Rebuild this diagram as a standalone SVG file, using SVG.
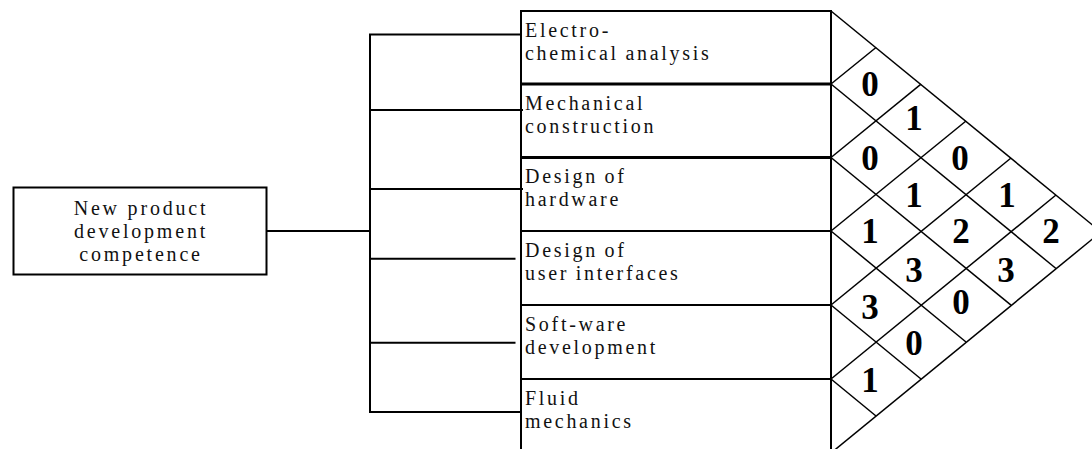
<svg xmlns="http://www.w3.org/2000/svg" width="1092" height="449" viewBox="0 0 1092 449">
  <style>
    .box { fill: #fff; stroke: #000; stroke-width: 2; }
    .ln { fill: none; stroke: #000; stroke-width: 2; }
    .thick { fill: none; stroke: #000; stroke-width: 3.2; }
    .grid { fill: none; stroke: #000; stroke-width: 1.5; }
    .lbl { font-family: "Liberation Serif", "Times New Roman", serif; font-size: 20px; letter-spacing: 2.7px; word-spacing: -1px; fill: #111; }
    .root { font-family: "Liberation Serif", "Times New Roman", serif; font-size: 20px; letter-spacing: 2.8px; fill: #111; text-anchor: middle; }
    .num { font-family: "Liberation Serif", "Times New Roman", serif; font-size: 35px; font-weight: bold; fill: #000; text-anchor: middle; }
  </style>

  <rect width="1092" height="449" fill="#fff"/>

  <!-- tree connectors from the root box to each competence -->
  <g id="connectors">
    <line class="ln" x1="267" y1="231" x2="370" y2="231"/>
    <line class="ln" x1="370" y1="34.5" x2="370" y2="412"/>
    <line class="ln" x1="369" y1="34.5" x2="521" y2="34.5"/>
    <line class="ln" x1="369" y1="110" x2="523" y2="110"/>
    <line class="ln" x1="369" y1="189" x2="523" y2="189"/>
    <line class="ln" x1="369" y1="258.7" x2="515.5" y2="258.7"/>
    <line class="ln" x1="369" y1="342.7" x2="515.5" y2="342.7"/>
    <line class="ln" x1="369" y1="412" x2="521" y2="412"/>
  </g>

  <!-- root node -->
  <g id="root">
    <rect class="box" x="13.5" y="187.5" width="253" height="87"/>
    <text class="root" x="141" y="215">New product</text>
    <text class="root" x="141" y="237.5">development</text>
    <text class="root" x="141" y="260.5">competence</text>
  </g>

  <!-- competence list frame -->
  <g id="list-frame">
    <line class="ln" x1="521" y1="10" x2="521" y2="449"/>
    <line class="ln" x1="831" y1="10" x2="831" y2="449"/>
    <line class="ln" x1="520" y1="11" x2="832" y2="11"/>
  </g>

  <g id="electrochemical">
    <text class="lbl" x="525" y="36.8">Electro-</text>
    <text class="lbl" x="525" y="59.8">chemical analysis</text>
  </g>
  <g id="mechanical">
    <line class="thick" x1="521" y1="84" x2="831" y2="84"/>
    <text class="lbl" x="525" y="109.8">Mechanical</text>
    <text class="lbl" x="525" y="132.8">construction</text>
  </g>
  <g id="hardware">
    <line class="thick" x1="521" y1="157.5" x2="831" y2="157.5"/>
    <text class="lbl" x="525" y="183">Design of</text>
    <text class="lbl" x="525" y="206.3">hardware</text>
  </g>
  <g id="user-interfaces">
    <line class="ln" x1="521" y1="231" x2="831" y2="231"/>
    <text class="lbl" x="525" y="256.8">Design of</text>
    <text class="lbl" x="525" y="279.8">user interfaces</text>
  </g>
  <g id="software">
    <line class="ln" x1="521" y1="305" x2="831" y2="305"/>
    <text class="lbl" x="525" y="330.8">Soft-ware</text>
    <text class="lbl" x="525" y="353.8">development</text>
  </g>
  <g id="fluid">
    <line class="ln" x1="521" y1="379" x2="831" y2="379"/>
    <text class="lbl" x="525" y="404.8">Fluid</text>
    <text class="lbl" x="525" y="427.8">mechanics</text>
  </g>

  <!-- triangular relation matrix: down-right and up-right lattice lines -->
  <g id="matrix-grid">
    <line class="grid" x1="831" y1="11" x2="1101" y2="232"/>
    <line class="grid" x1="831" y1="84" x2="1056" y2="268.5"/>
    <line class="grid" x1="831" y1="157.5" x2="1011" y2="305.2"/>
    <line class="grid" x1="831" y1="231" x2="966" y2="342"/>
    <line class="grid" x1="831" y1="305" x2="921" y2="379"/>
    <line class="grid" x1="831" y1="379" x2="876" y2="416"/>

    <line class="grid" x1="831" y1="84" x2="876" y2="47.5"/>
    <line class="grid" x1="831" y1="157.5" x2="921" y2="84.2"/>
    <line class="grid" x1="831" y1="231" x2="966" y2="121"/>
    <line class="grid" x1="831" y1="305" x2="1011" y2="158"/>
    <line class="grid" x1="831" y1="379" x2="1056" y2="195"/>
    <line class="grid" x1="831" y1="453" x2="1101" y2="232"/>
  </g>

  <!-- pairwise relation scores -->
  <g id="matrix-values">
    <text class="num" x="870" y="96">0</text>
    <text class="num" x="914" y="129.5">1</text>
    <text class="num" x="870" y="170">0</text>
    <text class="num" x="960" y="170">0</text>
    <text class="num" x="914" y="206.5">1</text>
    <text class="num" x="1007" y="206.5">1</text>
    <text class="num" x="870" y="243">1</text>
    <text class="num" x="961" y="243">2</text>
    <text class="num" x="1051" y="243">2</text>
    <text class="num" x="914" y="281.5">3</text>
    <text class="num" x="1006" y="281.5">3</text>
    <text class="num" x="870" y="318.5">3</text>
    <text class="num" x="961" y="314">0</text>
    <text class="num" x="914" y="355">0</text>
    <text class="num" x="870" y="392">1</text>
  </g>
</svg>
